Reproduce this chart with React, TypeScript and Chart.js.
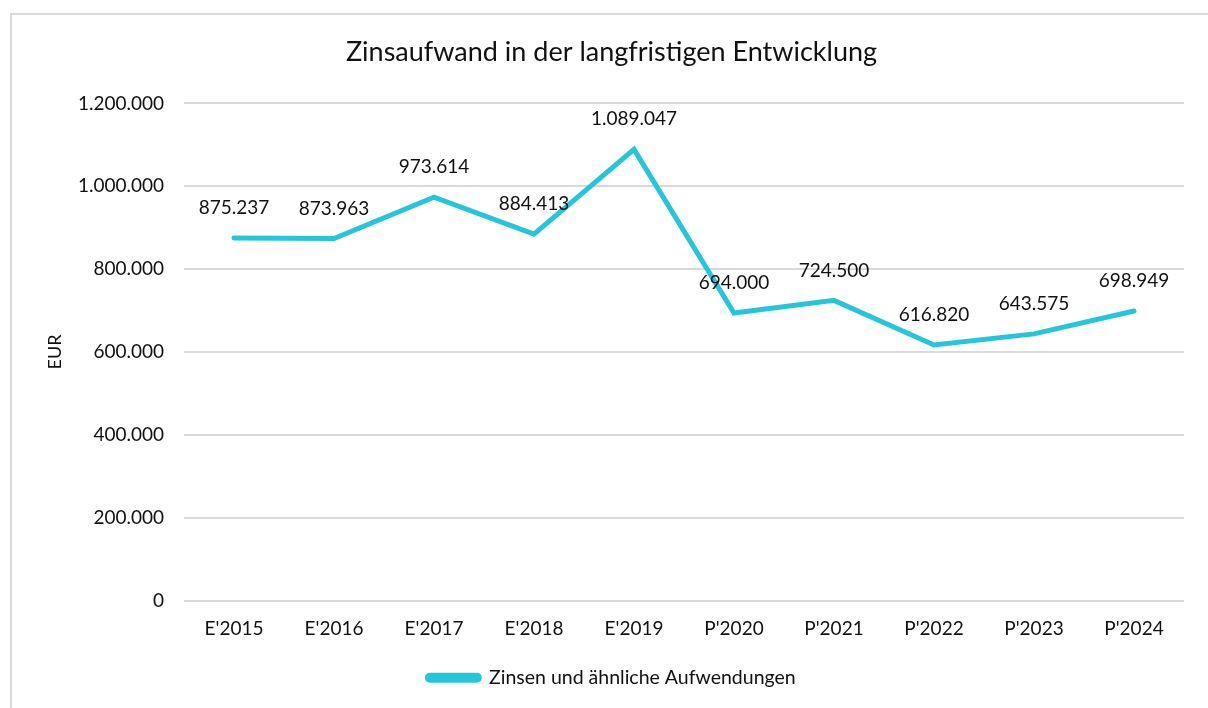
import React, { useEffect, useRef } from "react";
import { Chart, registerables } from "chart.js";

Chart.register(...registerables);

const categories = ["E'2015", "E'2016", "E'2017", "E'2018", "E'2019", "P'2020", "P'2021", "P'2022", "P'2023", "P'2024"];
const interestExpense = [875237, 873963, 973614, 884413, 1089047, 694000, 724500, 616820, 643575, 698949];
const seriesName = "Zinsen und ähnliche Aufwendungen";
const chartTitle = "Zinsaufwand in der langfristigen Entwicklung";
const yAxisTitle = "EUR";
const yMin = 0;
const yMax = 1200000;
const yStep = 200000;

const FONT = "Lato, 'Open Sans', sans-serif";
const LINE_COLOR = "#26C6DA";

const fmt = (v: number) => String(Math.round(v)).replace(/\B(?=(\d{3})+(?!\d))/g, ".");

const dataLabelPlugin = {
  id: "dataLabels",
  afterDatasetsDraw(chart: any) {
    const ctx = chart.ctx;
    const meta = chart.getDatasetMeta(0);
    const data = chart.data.datasets[0].data as number[];
    ctx.save();
    ctx.font = `19px ${FONT}`;
    ctx.fillStyle = "#111";
    ctx.textAlign = "center";
    ctx.textBaseline = "middle";
    meta.data.forEach((pt: any, i: number) => {
      ctx.fillText(fmt(data[i]), pt.x, pt.y - 30);
    });
    ctx.restore();
  },
};

export default function App() {
  const ref = useRef<HTMLCanvasElement | null>(null);
  useEffect(() => {
    document.body.style.margin = "0";
    const chart = new Chart(ref.current!, {
      type: "line",
      data: {
        labels: categories,
        datasets: [
          {
            label: seriesName,
            data: interestExpense,
            borderColor: LINE_COLOR,
            backgroundColor: LINE_COLOR,
            borderWidth: 5,
            pointRadius: 0,
            pointHoverRadius: 0,
            tension: 0,
            borderCapStyle: "round",
            borderJoinStyle: "miter",
          },
        ],
      },
      options: {
        animation: false,
        responsive: false,
        maintainAspectRatio: false,
        layout: { padding: { left: 39, right: 24, top: 0, bottom: 10.5 } },
        plugins: {
          title: {
            display: true,
            text: chartTitle,
            color: "#111",
            font: { family: FONT, size: 27, weight: "normal" },
            padding: { top: 36, bottom: 35 },
          },
          legend: {
            display: true,
            position: "bottom",
            labels: {
              color: "#111",
              font: { family: FONT, size: 19.5 },
              boxWidth: 52,
              boxHeight: 5,
              padding: 10,
              useBorderRadius: true,
              borderRadius: 2.5,
            },
          },
          tooltip: { enabled: false },
        },
        scales: {
          x: {
            offset: true,
            grid: { display: false, drawTicks: false },
            border: { display: false },
            ticks: { color: "#111", font: { family: FONT, size: 19 }, padding: 16.6, maxRotation: 0 },
            afterFit: (s: any) => {
              s.height = 57.5;
            },
          },
          y: {
            min: yMin,
            max: yMax,
            grid: { color: "#d9d9d9", lineWidth: 2, drawTicks: false },
            border: { display: false },
            ticks: {
              stepSize: yStep,
              color: "#111",
              font: { family: FONT, size: 19 },
              padding: 20,
              callback: (v: any) => fmt(Number(v)),
            },
            title: {
              display: true,
              text: yAxisTitle,
              color: "#111",
              font: { family: FONT, size: 18 },
              padding: { top: 5.2, bottom: 0 },
            },
            afterFit: (s: any) => {
              s.width = 145;
            },
          },
        },
      },
      plugins: [dataLabelPlugin],
    });
    return () => chart.destroy();
  }, []);

  return (
    <div style={{ position: "fixed", left: 0, top: 0, width: 1208, height: 708, overflow: "hidden", background: "#fff" }}>
      <div
        style={{
          position: "absolute",
          left: 10,
          top: 13,
          width: 1400,
          height: 900,
          border: "2px solid #d9d9d9",
          boxSizing: "border-box",
        }}
      />
      <canvas ref={ref} width={1208} height={708} style={{ position: "absolute", left: 0, top: 0, width: 1208, height: 708 }} />
    </div>
  );
}
